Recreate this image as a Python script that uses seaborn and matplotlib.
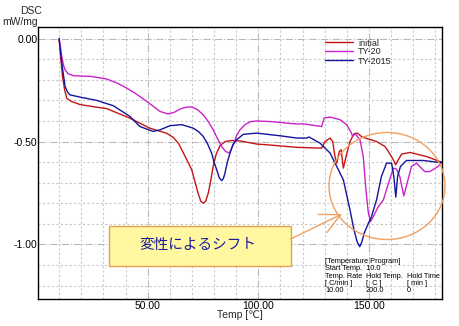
import numpy as np
import pandas as pd
import matplotlib
matplotlib.use("Agg")
import matplotlib.pyplot as plt
from matplotlib.patches import Ellipse, Rectangle
from matplotlib.ticker import MultipleLocator, FixedLocator
from matplotlib.lines import Line2D
import seaborn as sns

# ---------------- data ----------------
series_names = ["initial", "TY-20", "TY-2015"]

initial_t = [10.0, 10.8, 11.5, 12.5, 13.5, 15.5, 19.4, 25.0, 31.5, 41.9, 51.0, 58.6, 61.6,
             64.0, 66.1, 68.0, 69.9, 71.5, 72.9, 74.0, 75.1, 76.2, 77.4, 78.5, 79.6, 81.0,
             82.7, 85.0, 88.0, 91.7, 99.2, 105.3, 117.3, 128.6, 130.1, 132.4, 133.6, 134.6,
             135.4, 136.6, 137.4, 138.4, 139.6, 141.4, 143.2, 144.7, 146.9, 153.4, 157.2,
             158.7, 161.0, 162.0, 163.2, 164.7, 168.5, 176.0, 182.0, 183.0]
initial_v = [0.00, -0.10, -0.18, -0.25, -0.29, -0.305, -0.32, -0.33, -0.34, -0.386, -0.435,
             -0.46, -0.48, -0.51, -0.555, -0.595, -0.637, -0.70, -0.755, -0.79, -0.80, -0.79,
             -0.75, -0.69, -0.62, -0.56, -0.52, -0.50, -0.495, -0.497, -0.512, -0.517, -0.528,
             -0.532, -0.50, -0.483, -0.50, -0.573, -0.605, -0.548, -0.540, -0.629, -0.573,
             -0.50, -0.462, -0.459, -0.478, -0.50, -0.524, -0.548, -0.589, -0.613, -0.589,
             -0.561, -0.553, -0.573, -0.597, -0.60]

ty20_t = [10.0, 10.6, 11.2, 12.0, 12.7, 14.0, 16.4, 20.0, 24.0, 31.5, 36.0, 40.5, 45.0, 49.6,
          55.6, 59.3, 62.0, 64.6, 67.5, 69.9, 72.5, 75.1, 77.5, 79.6, 81.5, 83.4, 85.2, 86.9,
          88.7, 90.2, 91.7, 94.0, 96.2, 99.2, 105.3, 109.8, 117.3, 120.3, 128.6, 129.7, 132.4,
          136.9, 139.9, 141.7, 142.6, 143.7, 145.9, 147.4, 148.6, 149.7, 150.7, 151.9, 154.2,
          156.5, 158.8, 161.0, 162.4, 163.9, 165.7, 167.2, 169.2, 171.4, 175.2, 177.4, 181.2,
          183.0]
ty20_v = [0.00, -0.04, -0.086, -0.13, -0.151, -0.170, -0.180, -0.182, -0.183, -0.196, -0.215,
          -0.240, -0.27, -0.305, -0.354, -0.366, -0.358, -0.342, -0.333, -0.332, -0.345, -0.370,
          -0.405, -0.443, -0.485, -0.524, -0.548, -0.556, -0.516, -0.47, -0.443, -0.418, -0.404,
          -0.400, -0.403, -0.407, -0.415, -0.414, -0.427, -0.386, -0.381, -0.394, -0.418, -0.451,
          -0.475, -0.462, -0.491, -0.573, -0.735, -0.848, -0.889, -0.865, -0.816, -0.783, -0.702,
          -0.629, -0.634, -0.670, -0.764, -0.702, -0.621, -0.605, -0.646, -0.646, -0.621, -0.60]

ty2015_t = [10.0, 10.6, 11.2, 12.0, 12.7, 13.8, 14.9, 19.4, 27.0, 34.5, 42.0, 46.5, 52.5, 55.6,
            60.1, 65.4, 70.6, 73.0, 75.1, 77.0, 78.9, 80.0, 81.2, 82.3, 83.4, 84.2, 84.9, 86.0,
            87.2, 88.5, 90.2, 93.2, 99.2, 109.8, 117.3, 121.8, 122.9, 127.9, 132.4, 135.4, 138.4,
            141.4, 143.2, 144.6, 145.8, 146.8, 147.8, 149.7, 151.1, 153.4, 155.6, 157.9, 160.2,
            161.2, 162.1, 162.9, 164.2, 166.9, 174.5, 182.0, 183.0]
ty2015_v = [0.00, -0.06, -0.118, -0.18, -0.232, -0.26, -0.273, -0.284, -0.300, -0.326, -0.378,
            -0.427, -0.451, -0.443, -0.423, -0.418, -0.435, -0.452, -0.475, -0.51, -0.556, -0.60,
            -0.637, -0.675, -0.690, -0.680, -0.654, -0.60, -0.556, -0.515, -0.491, -0.465, -0.459,
            -0.472, -0.483, -0.483, -0.478, -0.508, -0.556, -0.621, -0.686, -0.832, -0.929, -0.986,
            -1.011, -0.986, -0.946, -0.897, -0.865, -0.783, -0.670, -0.605, -0.605, -0.670, -0.770,
            -0.670, -0.621, -0.592, -0.592, -0.602, -0.60]

x_tick_values = [50, 100, 150]
y_tick_values = [0.0, -0.5, -1.0]

program_lines = [
    ["[Temperature Program]"],
    ["Start Temp.  10.0"],
    ["Temp. Rate", "Hold Temp.", "Hold Time"],
    ["[ C/min ]", "[  C ]", "[ min ]"],
    ["10.00", "200.0", "0"],
]

# ---------------- figure ----------------
sns.set_theme(style="white")
plt.rcParams["font.family"] = ["Liberation Sans", "DejaVu Sans"]

W, H = 460, 326
fig = plt.figure(figsize=(W / 100, H / 100), dpi=100)
L, R, T, B = 38.3, 442.3, 26.7, 299.0
ax = fig.add_axes([L / W, 1 - B / H, (R - L) / W, (B - T) / H])

def fx(x):
    return x / W

def fy(y):
    return 1 - y / H

df = pd.concat([
    pd.DataFrame({"temp": initial_t, "dsc": initial_v, "sample": series_names[0]}),
    pd.DataFrame({"temp": ty20_t, "dsc": ty20_v, "sample": series_names[1]}),
    pd.DataFrame({"temp": ty2015_t, "dsc": ty2015_v, "sample": series_names[2]}),
], ignore_index=True)

palette = {"initial": "#c41414", "TY-20": "#cc22cc", "TY-2015": "#14149c"}

sns.lineplot(data=df, x="temp", y="dsc", hue="sample", palette=palette, sort=False,
             estimator=None, linewidth=1.0, ax=ax, legend=False, zorder=3)

ax.set_xlim(0.6, 183.1)
ax.set_ylim(-1.265, 0.058)

ax.xaxis.set_major_locator(FixedLocator(x_tick_values))
ax.yaxis.set_major_locator(FixedLocator(y_tick_values))
ax.xaxis.set_minor_locator(MultipleLocator(10))
ax.yaxis.set_minor_locator(MultipleLocator(0.1))
ax.set_xticklabels([f"{v:.2f}" for v in x_tick_values])
ax.set_yticklabels([f"{v:.2f}" for v in y_tick_values])

ax.grid(which="minor", color="#c8c8c8", linestyle=(0, (2, 2)), linewidth=0.8, zorder=0)
ax.grid(which="major", color="#b8b8b8", linestyle="-.", linewidth=0.8, zorder=0)
ax.set_axisbelow(True)

ax.tick_params(axis="both", which="both", length=0, labelsize=7.5, colors="black")
ax.tick_params(axis="y", pad=0.5)
ax.tick_params(axis="x", pad=1.5)
for s in ax.spines.values():
    s.set_color("black")
    s.set_linewidth(1.0)
    s.set_visible(True)

ax.set_xlabel("")
ax.set_ylabel("")
fig.text(fx(240), fy(315), "Temp [℃]", ha="center", va="center", fontsize=7.5)
fig.text(fx(42), fy(11.5), "DSC", ha="right", va="center", fontsize=7.5)
fig.text(fx(38), fy(22), "mW/mg", ha="right", va="center", fontsize=7.5)

# legend
handles = [Line2D([], [], color=palette[n], lw=1.0) for n in series_names]
ax.legend(handles, series_names, loc="upper left", bbox_to_anchor=(fx(325), fy(38.5)),
          bbox_transform=fig.transFigure, frameon=False, fontsize=6.5, handlelength=3.1,
          handletextpad=0.55, labelspacing=0.0, borderpad=0, borderaxespad=0)

# annotation box
def dx(px):
    return 0.6 + (px - L) / ((R - L) / 182.5)

def dy(py):
    return 0.058 - (py - T) / ((B - T) / 1.323)

box = Rectangle((dx(109), dy(265.7)), dx(290.7) - dx(109), dy(226) - dy(265.7),
                facecolor="#fff8a0", edgecolor="#e8a050", linewidth=1.0, zorder=4)
ax.add_patch(box)
ax.text(dx(198), dy(245.5), "変性によるシフト", ha="center", va="center", fontsize=10.5,
        color="#1a1a9a", family=["Noto Sans CJK JP", "DejaVu Sans"], zorder=5)

ax.annotate("", xy=(dx(342), dy(214)), xytext=(dx(290.7), dy(239)),
            arrowprops=dict(arrowstyle="->,head_length=1.2,head_width=0.6",
                            color="#f0a060", lw=1.0, mutation_scale=12,
                            shrinkA=0, shrinkB=0), zorder=5)

ell = Ellipse((dx(387), dy(186)), dx(445) - dx(329), dy(132.5) - dy(239.5),
              facecolor="none", edgecolor="#f0a060", linewidth=1.0, zorder=5, clip_on=False)
ax.add_patch(ell)

# temperature program text
col_x = [325, 366, 406.7]
row_y = [261.7, 269.0, 276.5, 283.5, 290.5]
for yy, row in zip(row_y, program_lines):
    for xx, txt in zip(col_x, row):
        t = ax.text(fx(xx), fy(yy), txt, transform=fig.transFigure, ha="left", va="center",
                    fontsize=5.3, color="black", zorder=6, clip_on=True)
        t.set_clip_box(ax.bbox)

fig.savefig("out.png", dpi=100)
